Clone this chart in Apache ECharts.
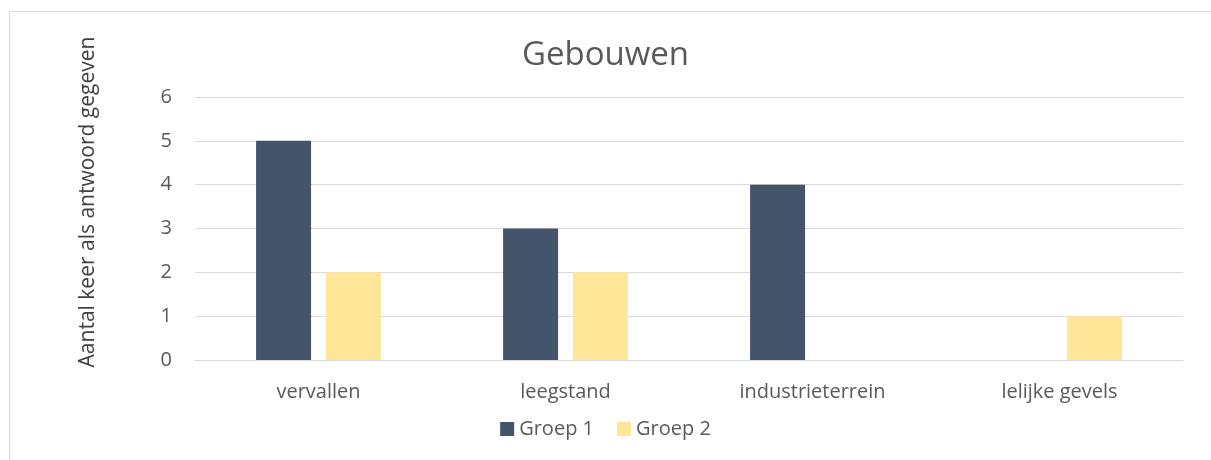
<!DOCTYPE html>
<html>
<head>
<meta charset="utf-8">
<script src="https://cdn.jsdelivr.net/npm/echarts@6/dist/echarts.min.js"></script>
<style>
  html, body { margin: 0; padding: 0; background: #fff; }
  #chart { width: 1211px; height: 460px; }
</style>
</head>
<body>
<div id="chart"></div>
<script>
// categorieën en waarden
const categories = ['vervallen', 'leegstand', 'industrieterrein', 'lelijke gevels'];
const groep1 = [5, 3, 4, 0];
const groep2 = [2, 2, 0, 1];
const seriesNames = ['Groep 1', 'Groep 2'];
const yTicks = [0, 1, 2, 3, 4, 5, 6];

const textColor = '#595959';
const gridColor = '#d9d9d9';
const fontFamily = '"Open Sans", "Noto Sans", sans-serif';

const chart = echarts.init(document.getElementById('chart'));

const option = {
  animation: false,
  textStyle: { fontFamily: fontFamily },
  title: {
    text: 'Gebouwen',
    left: 'center',
    top: 34,
    textStyle: { fontSize: 33, fontWeight: 'normal', color: textColor, fontFamily: fontFamily }
  },
  legend: {
    data: seriesNames,
    bottom: 16,
    left: 'center',
    itemWidth: 14,
    itemHeight: 14,
    itemGap: 23,
    icon: 'rect',
    textStyle: { fontSize: 20, color: textColor, fontFamily: fontFamily }
  },
  grid: {
    left: 195,
    right: 28,
    top: 97,
    bottom: 100
  },
  graphic: [
    {
      type: 'rect',
      shape: { x: 9.5, y: 11.5, width: 1230, height: 480 },
      style: { fill: 'none', stroke: gridColor, lineWidth: 1 },
      silent: true
    },
    {
      type: 'text',
      x: 88,
      y: 202,
      rotation: Math.PI / 2,
      style: {
        text: 'Aantal keer als antwoord gegeven',
        fill: '#404040',
        fontSize: 21,
        fontFamily: fontFamily,
        align: 'center',
        verticalAlign: 'middle'
      }
    }
  ],
  xAxis: {
    type: 'category',
    data: categories,
    axisLine: { lineStyle: { color: gridColor, width: 1 } },
    axisTick: { show: false },
    axisLabel: { fontSize: 20, color: textColor, margin: 22 }
  },
  yAxis: {
    type: 'value',
    min: yTicks[0],
    max: yTicks[yTicks.length - 1],
    interval: 1,
    axisLine: { show: false },
    axisTick: { show: false },
    axisLabel: { fontSize: 20, color: textColor, margin: 23 },
    splitLine: { lineStyle: { color: gridColor, width: 1 } }
  },
  series: [
    {
      name: seriesNames[0],
      type: 'bar',
      data: groep1,
      barWidth: 55,
      barGap: '27%',
      itemStyle: { color: '#44546a' }
    },
    {
      name: seriesNames[1],
      type: 'bar',
      data: groep2,
      barWidth: 55,
      barGap: '27%',
      itemStyle: { color: '#ffe699' }
    }
  ]
};

chart.setOption(option);
window.addEventListener('resize', () => chart.resize());
</script>
</body>
</html>
